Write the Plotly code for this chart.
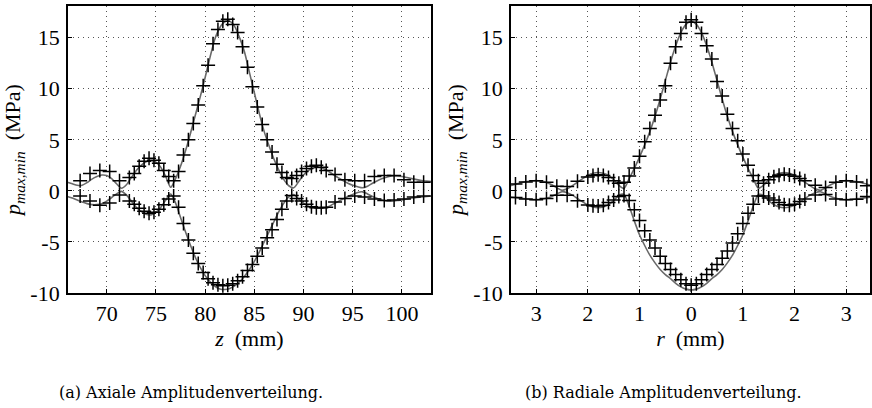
import plotly.graph_objects as go

# ---------------- data: axial (left) ----------------
z_sim = [66.0, 66.5, 67.0, 67.5, 68.0, 68.5, 69.0, 69.5, 70.0, 70.5, 71.0, 71.5, 72.0, 72.5,
         73.0, 73.5, 74.0, 74.5, 75.0, 75.5, 76.0, 76.5, 77.0, 77.5, 78.0, 78.5, 79.0, 79.5,
         80.0, 80.5, 81.0, 81.5, 82.0, 82.5, 83.0, 83.5, 84.0, 84.5, 85.0, 85.5, 86.0, 86.5,
         87.0, 87.5, 88.0, 88.5, 89.0, 89.5, 90.0, 90.5, 91.0, 91.5, 92.0, 92.5, 93.0, 93.5,
         94.0, 94.5, 95.0, 95.5, 96.0, 96.5, 97.0, 97.5, 98.0, 98.5, 99.0, 99.5, 100.0, 100.5,
         101.0, 101.5, 102.0, 102.5, 103.0]
pmax_sim_z = [0.85, 0.7, 0.55, 0.55, 0.8, 1.15, 1.4, 1.55, 1.5, 1.2, 0.7, 0.25, 0.6, 1.3,
              2.0, 2.5, 2.85, 2.95, 2.8, 2.3, 1.4, 0.35, 1.2, 2.4, 3.9, 5.6, 7.4, 9.2,
              11.1, 13.1, 14.9, 16.0, 16.55, 16.6, 16.1, 15.0, 13.6, 11.6, 9.6, 7.6, 5.8, 4.4,
              3.1, 2.0, 1.1, 0.5, 0.3, 0.9, 1.55, 2.0, 2.25, 2.3, 2.2, 1.95, 1.6, 1.3,
              1.0, 0.75, 0.55, 0.4, 0.3, 0.45, 0.75, 1.0, 1.2, 1.35, 1.45, 1.45, 1.4, 1.3,
              1.2, 1.1, 1.0, 0.95, 0.9]
pmin_sim_z = [-0.55, -0.7, -0.9, -1.1, -1.25, -1.35, -1.35, -1.25, -1.0, -0.65, -0.3, -0.05, -0.4, -1.0,
              -1.6, -2.0, -2.3, -2.35, -2.1, -1.6, -0.9, -0.3, -1.2, -2.6, -4.0, -5.3, -6.5, -7.5,
              -8.3, -8.9, -9.35, -9.6, -9.65, -9.55, -9.3, -8.9, -8.35, -7.7, -6.9, -6.0, -5.0, -4.0,
              -3.0, -2.0, -1.2, -0.6, -0.35, -0.8, -1.2, -1.5, -1.65, -1.7, -1.7, -1.55, -1.3, -1.05,
              -0.8, -0.55, -0.35, -0.15, -0.1, -0.3, -0.55, -0.75, -0.9, -1.0, -1.0, -0.95, -0.9, -0.8,
              -0.7, -0.65, -0.6, -0.55, -0.5]

z_meas = [67.3, 68.3, 69.3, 70.3, 71.3, 72.3, 72.8, 73.3, 73.8, 74.3, 74.8, 75.3, 75.8, 76.3,
          76.8, 77.3, 77.8, 78.3, 78.8, 79.3, 79.8, 80.3, 80.8, 81.3, 81.8, 82.3, 82.8, 83.3,
          83.8, 84.3, 84.8, 85.3, 85.8, 86.3, 86.8, 87.3, 87.8, 88.3, 88.8, 89.3, 89.8, 90.3,
          90.8, 91.3, 91.8, 92.3, 93.2, 94.2, 95.2, 96.2, 97.2, 98.2, 99.2, 100.2, 101.2, 102.2]
pmax_meas_z = [1.0, 1.7, 2.0, 1.9, 1.0, 1.3, 1.7, 2.4, 2.9, 3.2, 3.0, 2.7, 2.0, 1.4,
               1.0, 1.9, 3.5, 5.0, 6.6, 8.4, 10.3, 12.3, 14.4, 15.8, 16.6, 16.8, 16.3, 15.5,
               14.1, 12.1, 10.2, 8.2, 6.5, 5.0, 3.8, 2.6, 1.8, 1.3, 1.2, 1.5, 1.9, 2.2,
               2.4, 2.5, 2.3, 2.0, 1.6, 1.1, 1.0, 1.0, 1.4, 1.5, 1.5, 1.1, 0.85, 0.85]
pmin_meas_z = [-0.5, -1.0, -1.4, -1.2, -0.4, -1.0, -1.3, -1.7, -2.0, -2.2, -2.1, -1.8, -1.35, -0.8,
               -0.5, -1.6, -3.2, -4.8, -6.1, -7.1, -8.0, -8.6, -9.0, -9.2, -9.3, -9.25, -9.1, -8.8,
               -8.4, -7.8, -7.2, -6.4, -5.6, -4.6, -3.8, -2.8, -1.8, -1.0, -0.45, -0.75, -1.0, -1.3,
               -1.55, -1.65, -1.65, -1.6, -1.1, -0.75, -0.5, -0.6, -0.8, -0.95, -0.9, -0.8, -0.6, -0.5]

# ---------------- data: radial (right) ----------------
r_sim = [-3.5, -3.4, -3.3, -3.2, -3.1, -3.0, -2.9, -2.8, -2.7, -2.6, -2.5, -2.4, -2.3, -2.2,
         -2.1, -2.0, -1.9, -1.8, -1.7, -1.6, -1.5, -1.4, -1.3, -1.2, -1.1, -1.0, -0.9, -0.8,
         -0.7, -0.6, -0.5, -0.4, -0.3, -0.2, -0.1, 0.0, 0.1, 0.2, 0.3, 0.4, 0.5, 0.6,
         0.7, 0.8, 0.9, 1.0, 1.1, 1.2, 1.3, 1.4, 1.5, 1.6, 1.7, 1.8, 1.9, 2.0,
         2.1, 2.2, 2.3, 2.4, 2.5, 2.6, 2.7, 2.8, 2.9, 3.0, 3.1, 3.2, 3.3, 3.4, 3.5]
pmax_sim_r = [0.5, 0.65, 0.8, 0.9, 0.97, 1.0, 0.95, 0.82, 0.6, 0.3, 0.05, 0.2, 0.5, 0.85,
              1.2, 1.5, 1.72, 1.8, 1.72, 1.5, 1.1, 0.55, 0.25, 1.2, 2.2, 3.3, 4.5, 5.8,
              7.3, 9.0, 10.8, 12.6, 14.2, 15.5, 16.3, 16.6, 16.3, 15.5, 14.2, 12.6, 10.8, 9.0,
              7.3, 5.8, 4.5, 3.3, 2.2, 1.2, 0.25, 0.55, 1.1, 1.5, 1.72, 1.8, 1.72, 1.5,
              1.2, 0.85, 0.5, 0.2, 0.05, 0.3, 0.6, 0.82, 0.95, 1.0, 0.97, 0.9, 0.8, 0.65, 0.5]
pmin_sim_r = [-0.6, -0.66, -0.72, -0.78, -0.84, -0.86, -0.82, -0.72, -0.55, -0.3, -0.08, -0.18, -0.42, -0.75,
              -1.08, -1.38, -1.58, -1.65, -1.58, -1.35, -0.95, -0.45, -0.35, -1.5, -2.95, -4.3, -5.35, -6.3,
              -7.05, -7.7, -8.2, -8.6, -9.05, -9.4, -9.62, -9.7, -9.62, -9.4, -9.05, -8.6, -8.2, -7.7,
              -7.05, -6.3, -5.35, -4.3, -2.95, -1.5, -0.35, -0.45, -0.95, -1.35, -1.58, -1.65, -1.58, -1.38,
              -1.08, -0.75, -0.42, -0.18, -0.08, -0.3, -0.55, -0.72, -0.82, -0.86, -0.84, -0.78, -0.72, -0.66, -0.6]

r_meas = [-3.4, -3.2, -3.0, -2.8, -2.6, -2.4, -2.2, -2.0, -1.9, -1.8, -1.7, -1.6, -1.5, -1.4,
          -1.3, -1.2, -1.1, -1.0, -0.9, -0.8, -0.7, -0.6, -0.5, -0.4, -0.3, -0.2, -0.1, 0.0,
          0.1, 0.2, 0.3, 0.4, 0.5, 0.6, 0.7, 0.8, 0.9, 1.0, 1.1, 1.2, 1.3, 1.4,
          1.5, 1.6, 1.7, 1.8, 1.9, 2.0, 2.1, 2.2, 2.4, 2.6, 2.8, 3.0, 3.2, 3.4]
pmax_meas_r = [0.66, 0.88, 0.98, 0.85, 0.45, 0.43, 0.95, 1.35, 1.5, 1.57, 1.5, 1.3, 1.0, 0.75,
               0.85, 1.45, 2.25, 3.4, 4.8, 6.1, 7.4, 8.9, 10.3, 12.5, 14.1, 15.4, 16.5, 16.75,
               16.5, 15.4, 14.2, 12.9, 10.7, 9.3, 7.5, 6.1, 4.9, 3.6, 2.5, 1.5, 1.0, 0.75,
               1.1, 1.38, 1.52, 1.62, 1.56, 1.43, 1.22, 1.0, 0.56, 0.33, 0.85, 0.98, 0.88, 0.5]
pmin_meas_r = [-0.65, -0.8, -0.88, -0.75, -0.42, -0.42, -0.98, -1.38, -1.45, -1.47, -1.4, -1.15, -0.9, -0.55,
               -0.45, -0.95, -1.85, -2.9, -3.9, -4.8, -5.6, -6.4, -7.1, -7.7, -8.2, -8.7, -9.1, -9.25,
               -9.1, -8.7, -8.2, -7.7, -7.2, -6.6, -5.9, -5.1, -4.2, -3.2, -2.2, -1.3, -0.5, -0.5,
               -0.7, -0.9, -1.15, -1.35, -1.4, -1.3, -1.05, -0.8, -0.4, -0.35, -0.8, -0.88, -0.82, -0.55]

y_ticks = [-10, -5, 0, 5, 10, 15]
y_tick_text = ["-10", "-5", "0", "5", "10", "15"]
z_ticks = [70, 75, 80, 85, 90, 95, 100]
r_ticks = [-3, -2, -1, 0, 1, 2, 3]
r_tick_text = ["3", "2", "1", "0", "1", "2", "3"]
captions = ["(a) Axiale Amplitudenverteilung.", "(b) Radiale Amplitudenverteilung."]

FONT = "Liberation Serif"
CAP_FONT = "DejaVu Serif"
SIM_COLOR = "#6a6a6a"

fig = go.Figure()

def add_panel(x_sim, ymax_sim, ymin_sim, x_meas, ymax_meas, ymin_meas, xa, ya):
    for ys in (ymax_sim, ymin_sim):
        fig.add_trace(go.Scatter(x=x_sim, y=ys, mode="lines", xaxis=xa, yaxis=ya,
                                 line=dict(color=SIM_COLOR, width=1.6, shape="spline", smoothing=0.7),
                                 showlegend=False, hoverinfo="skip"))
    for ym in (ymax_meas, ymin_meas):
        fig.add_trace(go.Scatter(x=x_meas, y=ym, mode="markers", xaxis=xa, yaxis=ya,
                                 marker=dict(symbol="cross-thin", size=10,
                                             line=dict(color="black", width=1.5)),
                                 showlegend=False))

add_panel(z_sim, pmax_sim_z, pmin_sim_z, z_meas, pmax_meas_z, pmin_meas_z, "x", "y")
add_panel(r_sim, pmax_sim_r, pmin_sim_r, r_meas, pmax_meas_r, pmin_meas_r, "x2", "y2")

W, H = 872, 408
common_axis = dict(showline=True, mirror=True, linecolor="black", linewidth=1.5,
                   ticks="inside", ticklen=4, tickcolor="black",
                   showgrid=True, gridcolor="#555555", gridwidth=1, griddash="1px,4px",
                   zeroline=False, tickfont=dict(family=FONT, size=22, color="black"))

ytitle = "<i>p</i><sub><i>max,min</i></sub>  (MPa)"

fig.update_layout(
    width=W, height=H,
    margin=dict(l=0, r=0, t=6, b=115),
    paper_bgcolor="white", plot_bgcolor="white",
    font=dict(family=FONT, color="black"),
    xaxis=dict(common_axis, domain=[68 / W, 432 / W], range=[66.05, 102.95],
               tickvals=z_ticks, anchor="y",
               title=dict(text="<i>z</i>  (mm)", font=dict(family=FONT, size=22), standoff=4)),
    yaxis=dict(common_axis, domain=[0, 1], range=[-10, 18.1], tickvals=y_ticks,
               ticktext=y_tick_text, anchor="x", ticklabelstandoff=2,
               title=dict(text=ytitle, font=dict(family=FONT, size=22), standoff=4)),
    xaxis2=dict(common_axis, domain=[512 / W, 1.0], range=[-3.49, 3.46],
                tickvals=r_ticks, ticktext=r_tick_text, anchor="y2",
                title=dict(text="<i>r</i>  (mm)", font=dict(family=FONT, size=22), standoff=4)),
    yaxis2=dict(common_axis, domain=[0, 1], range=[-10, 18.1], tickvals=y_ticks,
                ticktext=y_tick_text, anchor="x2", ticklabelstandoff=2,
                title=dict(text=ytitle, font=dict(family=FONT, size=22), standoff=4)),
)

plot_h = H - 6 - 115
cap_y = (293 - 392) / plot_h
for cx, txt in zip([191 / W, 665 / W], captions):
    fig.add_annotation(text=txt, x=cx, y=cap_y, xref="paper", yref="paper",
                       showarrow=False, xanchor="center", yanchor="middle",
                       font=dict(family=CAP_FONT, size=16, color="black"))

fig.write_html("out.html")
